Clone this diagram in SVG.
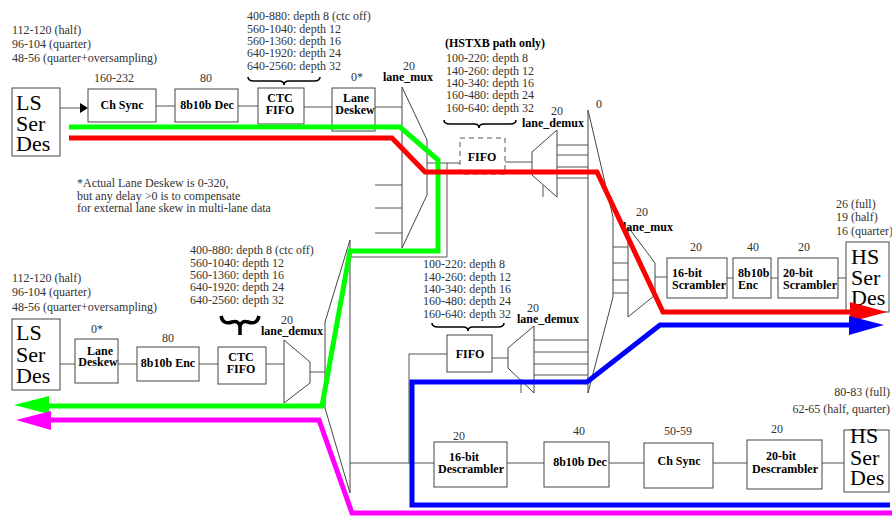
<svg xmlns="http://www.w3.org/2000/svg" width="892" height="517" viewBox="0 0 892 517">
<defs>
<style>
.box{fill:#fff;stroke:#444;stroke-width:1}
.dash{fill:#fff;stroke:#555;stroke-width:1;stroke-dasharray:5,4}
.mux{fill:none;stroke:#444;stroke-width:1}
.ln{fill:none;stroke:#555;stroke-width:1}
.brace{fill:none;stroke:#000;stroke-width:1.6}
.lbl{font-family:"Liberation Serif",serif;font-size:12px;fill:#333}
.b{font-family:"Liberation Serif",serif;font-size:12px;font-weight:bold;fill:#000}
.big{font-family:"Liberation Serif",serif;font-size:22px;fill:#000}
.hp{fill:none;stroke-width:5;stroke-linejoin:miter}
.c{text-anchor:middle}
</style>
</defs>
<rect width="892" height="517" fill="#fff"/>

<!-- free labels -->
<g id="labels">
<text class="lbl" x="12" y="34">112-120 (half)</text>
<text class="lbl" x="12" y="48">96-104 (quarter)</text>
<text class="lbl" x="12" y="62">48-56 (quarter+oversampling)</text>
<text class="lbl" x="247" y="20">400-880: depth 8 (ctc off)</text>
<text class="lbl" x="247" y="32.5">560-1040: depth 12</text>
<text class="lbl" x="247" y="45">560-1360: depth 16</text>
<text class="lbl" x="247" y="57">640-1920: depth 24</text>
<text class="lbl" x="247" y="69.5">640-2560: depth 32</text>
<path class="brace" d="M248,77 Q248,81 254,81 L279,81 Q284,81 284,85 Q284,81 289,81 L314,81 Q320,81 320,77"/>
<text class="b" x="445" y="47">(HSTXB path only)</text>
<text class="lbl" x="446" y="62">100-220: depth 8</text>
<text class="lbl" x="446" y="74.5">140-260: depth 12</text>
<text class="lbl" x="446" y="87">140-340: depth 16</text>
<text class="lbl" x="446" y="99">160-480: depth 24</text>
<text class="lbl" x="446" y="111.5">160-640: depth 32</text>
<path class="brace" d="M444,120 Q444,124 450,124 L474,124 Q479,124 479,128 Q479,124 484,124 L510,124 Q516,124 516,120"/>
<text class="lbl c" x="114" y="82">160-232</text>
<text class="lbl c" x="206" y="82">80</text>
<text class="lbl c" x="357" y="81">0*</text>
<text class="lbl" x="77" y="187">*Actual Lane Deskew is 0-320,</text>
<text class="lbl" x="77" y="199.5">but any delay &gt;0 is to compensate</text>
<text class="lbl" x="77" y="212">for external lane skew in multi-lane data</text>
<text class="lbl" x="12" y="282">112-120 (half)</text>
<text class="lbl" x="12" y="296">96-104 (quarter)</text>
<text class="lbl" x="12" y="311">48-56 (quarter+oversampling)</text>
<text class="lbl" x="190" y="254">400-880: depth 8 (ctc off)</text>
<text class="lbl" x="190" y="266.5">560-1040: depth 12</text>
<text class="lbl" x="190" y="279">560-1360: depth 16</text>
<text class="lbl" x="190" y="291">640-1920: depth 24</text>
<text class="lbl" x="190" y="303.5">640-2560: depth 32</text>
<path d="M221,316 Q223,325 232,322 Q239,320 240,327 L240,335 M259,316 Q257,325 248,322 Q241,320 240,327" fill="none" stroke="#000" stroke-width="3.5"/>
<text class="lbl c" x="97" y="333">0*</text>
<text class="lbl c" x="168" y="342">80</text>
<text class="lbl" x="423" y="268">100-220: depth 8</text>
<text class="lbl" x="423" y="280.5">140-260: depth 12</text>
<text class="lbl" x="423" y="293">140-340: depth 16</text>
<text class="lbl" x="423" y="305">160-480: depth 24</text>
<text class="lbl" x="423" y="317.5">160-640: depth 32</text>
<path class="brace" d="M432,323 Q432,327 438,327 L463,327 Q468,327 468,331 Q468,327 473,327 L498,327 Q504,327 504,323"/>
<text class="lbl c" x="599" y="108">0</text>
<text class="lbl c" x="696" y="251">20</text>
<text class="lbl c" x="753" y="251">40</text>
<text class="lbl c" x="804" y="251">20</text>
<text class="lbl" x="836" y="208">26 (full)</text>
<text class="lbl" x="836" y="221">19 (half)</text>
<text class="lbl" x="836" y="235">16 (quarter)</text>
<text class="lbl c" x="459" y="440">20</text>
<text class="lbl c" x="579" y="435">40</text>
<text class="lbl c" x="678" y="435">50-59</text>
<text class="lbl c" x="777" y="433">20</text>
<text class="lbl" x="890" y="396" text-anchor="end">80-83 (full)</text>
<text class="lbl" x="890" y="413" text-anchor="end">62-65 (half, quarter)</text>
</g>

<!-- connectors -->
<g id="connectors">
<line class="ln" x1="60" y1="108" x2="81" y2="108"/>
<polygon points="88,108 80,103 80,113" fill="#000"/>
<path class="ln" d="M156,106H175 M238,106H258 M304,107H332 M375,107H402 M375,185H402 M375,208H402 M375,233H402"/>
<path class="ln" d="M427,163H460 M447,163V257H350"/>
<path class="ln" d="M505,162H532 M557,145H588 M557,155H588 M557,167H588 M557,178H588"/>
<path class="ln" d="M613,247H628 M613,263H628 M613,280H628 M613,293H628 M655,277H667"/>
<path class="ln" d="M727,278H733 M771,278H778 M838,278H846"/>
<path class="ln" d="M60,364H75 M118,364H137 M199,364H218 M266,364H284 M310,372H325"/>
<path class="ln" d="M350,463H434 M447,354H409V463 M492,358H508"/>
<path class="ln" d="M534,340H588 M534,352H588 M534,364H588 M534,375H588"/>
<path class="ln" d="M507,463H544 M609,463H644 M713,463H747 M822,463H844"/>
</g>

<!-- nodes -->
<g id="ls-serdes-top"><rect class="box" x="12" y="88" width="48" height="68"/>
<text class="big" x="16" y="110">LS</text><text class="big" x="16" y="131">Ser</text><text class="big" x="16" y="151">Des</text></g>
<g id="ch-sync-top"><rect class="box" x="88" y="89" width="68" height="33"/><text class="b c" x="122" y="109">Ch Sync</text></g>
<g id="dec-top"><rect class="box" x="175" y="89" width="63" height="33"/><text class="b c" x="207" y="109">8b10b Dec</text></g>
<g id="ctc-top"><rect class="box" x="258" y="88" width="46" height="36"/><text class="b c" x="280" y="102">CTC</text><text class="b c" x="280" y="114">FIFO</text></g>
<g id="deskew-top"><rect class="box" x="332" y="88" width="43" height="43"/><text class="b c" x="356" y="102">Lane</text><text class="b c" x="355" y="114">Deskew</text></g>
<g id="lane-mux-top"><polygon class="mux" points="402,87 427,140 427,195 402,248"/>
<text class="lbl c" x="409" y="70">20</text><text class="b c" x="408" y="81">lane_mux</text></g>
<g id="fifo-top"><rect class="dash" x="460" y="138" width="45" height="36"/><text class="b c" x="482" y="161">FIFO</text></g>
<g id="lane-demux-top"><polygon class="mux" points="532,152 557,130 557,197 532,175"/><line class="ln" x1="543" y1="185" x2="543" y2="197"/>
<text class="lbl c" x="557" y="115">20</text><text class="b c" x="553" y="127">lane_demux</text></g>
<g id="mux-0"><polygon class="mux" points="588,110 613,217 613,297 588,393"/></g>
<g id="lane-mux-right"><polygon class="mux" points="628,227 655,263 655,295 628,317"/>
<text class="lbl c" x="642" y="216">20</text><text class="b c" x="648" y="231">lane_mux</text></g>
<g id="scr16"><rect class="box" x="667" y="258" width="60" height="40"/><text class="b" x="672" y="277">16-bit</text><text class="b" x="672" y="289">Scrambler</text></g>
<g id="enc-top"><rect class="box" x="733" y="258" width="38" height="40"/><text class="b" x="738" y="277">8b10b</text><text class="b" x="738" y="289">Enc</text></g>
<g id="scr20"><rect class="box" x="778" y="258" width="60" height="40"/><text class="b" x="783" y="277">20-bit</text><text class="b" x="783" y="289">Scrambler</text></g>
<g id="hs-serdes-top"><rect class="box" x="846" y="242" width="43" height="70"/>
<text class="big" x="851" y="264">HS</text><text class="big" x="851" y="285">Ser</text><text class="big" x="851" y="305">Des</text></g>

<g id="ls-serdes-bottom"><rect class="box" x="12" y="319" width="48" height="71"/>
<text class="big" x="16" y="340">LS</text><text class="big" x="16" y="362">Ser</text><text class="big" x="16" y="383">Des</text></g>
<g id="deskew-bottom"><rect class="box" x="75" y="339" width="43" height="44"/><text class="b c" x="100" y="355">Lane</text><text class="b c" x="98" y="366">Deskew</text></g>
<g id="enc-bottom"><rect class="box" x="137" y="347" width="62" height="34"/><text class="b c" x="168" y="367">8b10b Enc</text></g>
<g id="ctc-bottom"><rect class="box" x="218" y="347" width="48" height="37"/><text class="b c" x="241" y="361">CTC</text><text class="b c" x="241" y="373">FIFO</text></g>
<g id="lane-demux-bottom-left"><polygon class="mux" points="284,340 310,362 310,383 284,403"/>
<text class="lbl c" x="287" y="324">20</text><text class="b c" x="292" y="335">lane_demux</text></g>
<g id="mux-left"><polygon class="mux" points="350,240 325,322 325,408 350,493"/></g>
<g id="fifo-bottom"><rect class="box" x="447" y="335" width="45" height="37"/><text class="b c" x="470" y="358">FIFO</text></g>
<g id="lane-demux-bottom"><polygon class="mux" points="508,348 534,326 534,393 508,368"/><line class="ln" x1="521" y1="379" x2="521" y2="393"/>
<text class="lbl c" x="533" y="312">20</text><text class="b c" x="548" y="323">lane_demux</text></g>
<g id="descr16"><rect class="box" x="434" y="442" width="73" height="45"/><text class="b c" x="464" y="461">16-bit</text><text class="b c" x="471" y="473">Descrambler</text></g>
<g id="dec-bottom"><rect class="box" x="544" y="442" width="65" height="45"/><text class="b c" x="580" y="466">8b10b Dec</text></g>
<g id="ch-sync-bottom"><rect class="box" x="644" y="443" width="69" height="45"/><text class="b c" x="679" y="465">Ch Sync</text></g>
<g id="descr20"><rect class="box" x="747" y="440" width="75" height="49"/><text class="b c" x="781" y="460">20-bit</text><text class="b c" x="785" y="473">Descrambler</text></g>
<g id="hs-serdes-bottom"><rect class="box" x="844" y="430" width="45" height="62"/>
<text class="big" x="850" y="443">HS</text><text class="big" x="850" y="465">Ser</text><text class="big" x="850" y="485">Des</text></g>

<!-- highlighted data paths -->
<g id="paths">
<polyline class="hp" stroke="#00ff00" points="69,127 400,127 438,160 438,251 350,251 322,406 45,406"/>
<polygon points="14,405 49,396 49,414" fill="#00ff00"/>
<polyline class="hp" stroke="#ff0000" points="69,138 392,138 425,172 597,172 663,312 852,312"/>
<polygon points="887,312 850,302 850,322" fill="#ff0000"/>
<polyline class="hp" stroke="#0000ff" points="851,325 660,325 587,382 412,382 412,505 890,505"/>
<polygon points="884,325 849,316 849,335" fill="#0000ff"/>
<polyline class="hp" stroke="#ff00ff" points="47,420 319,420 352,513 892,513"/>
<polygon points="16,420 51,411 51,430" fill="#ff00ff"/>
</g>
</svg>
